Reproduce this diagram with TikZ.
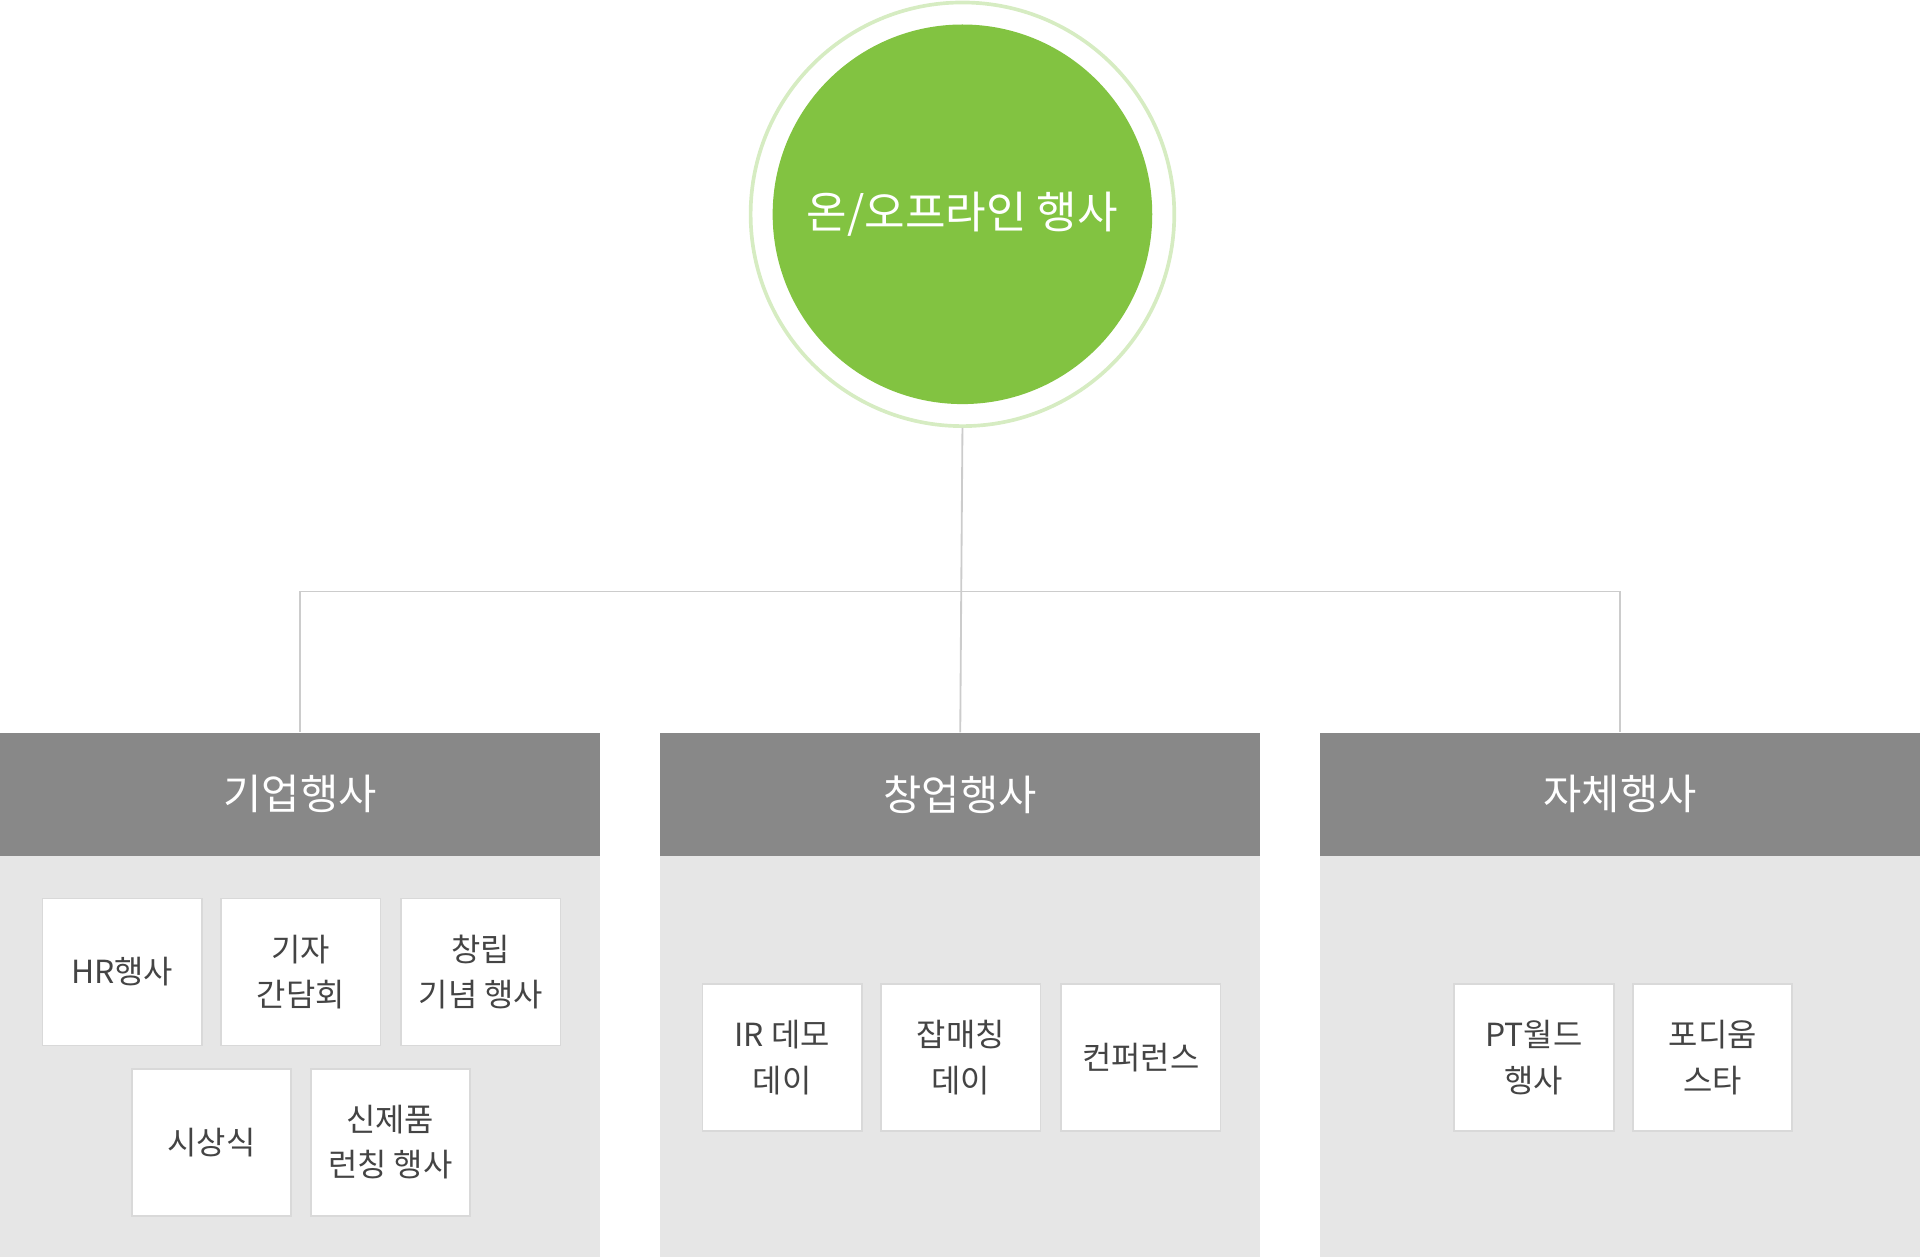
\documentclass[tikz,border=0pt]{standalone}
\usepackage{fontspec}
\setmainfont{Noto Sans CJK KR}
\usetikzlibrary{positioning,patterns}
\definecolor{ringgreen}{HTML}{D6ECC2}
\definecolor{maingreen}{HTML}{82C341}
\definecolor{headgray}{HTML}{888888}
\definecolor{bodygray}{HTML}{E6E6E6}
\definecolor{linegray}{HTML}{CCCCCC}
\definecolor{boxline}{HTML}{D9D9D9}
\definecolor{txtgray}{HTML}{444444}
\tikzset{
  head/.style={fill=headgray, text=white, font=\fontsize{34}{40}\selectfont, minimum width=490, minimum height=101, inner sep=0, anchor=north west},
  body/.style={fill=bodygray, minimum width=490, minimum height=327, inner sep=0, anchor=north west},
  item/.style={fill=white, draw=boxline, line width=1.5, minimum width=130, minimum height=120, inner sep=0, anchor=north west, align=center, text=txtgray, font=\fontsize{26}{37}\selectfont},
  link/.style={draw=linegray, line width=1.5}
}
\begin{document}
\begin{tikzpicture}[x=1pt,y=-1pt]
        \useasboundingbox (0,0) rectangle (1568,1026);

        %circle
        \node[circle, draw=ringgreen, line width=3, minimum size=346, inner sep=0] (ring) at (786,175) {};
        \node[circle, fill=maingreen, minimum size=310, inner sep=0, text=white, font=\fontsize{36}{40}\selectfont] (main) at (786,175) {온/오프라인 행사};

        %panels
        \node[body] (b1) at (0,699) {};
        \node[body] (b2) at (539,699) {};
        \node[body] (b3) at (1078,699) {};
        \node[head] (h1) at (0,598) {기업행사};
        \node[head] (h2) at (539,598) {창업행사};
        \node[head] (h3) at (1078,598) {자체행사};

        % connectors
        \coordinate (j) at (785,483);
        \draw[link] (ring.south) -- (j) -- (h2.north);
        \draw[link] (j) -| (h1.north);
        \draw[link] (j) -| (h3.north);

        % items
        \node[item] (hr) at (34,733) {HR행사};
        \node[item] (press) at (180,733) {기자\\간담회};
        \node[item] (found) at (327,733) {창립\\기념 행사};
        \node[item] (award) at (107,872) {시상식};
        \node[item] (launch) at (253,872) {신제품\\런칭 행사};

        \node[item] (ir) at (573,803) {IR 데모\\데이};
        \node[item] (job) at (719,803) {잡매칭\\데이};
        \node[item] (conf) at (866,803) {컨퍼런스};

        \node[item] (pt) at (1187,803) {PT월드\\행사};
        \node[item] (podium) at (1333,803) {포디움\\스타};
\end{tikzpicture}
\end{document}
